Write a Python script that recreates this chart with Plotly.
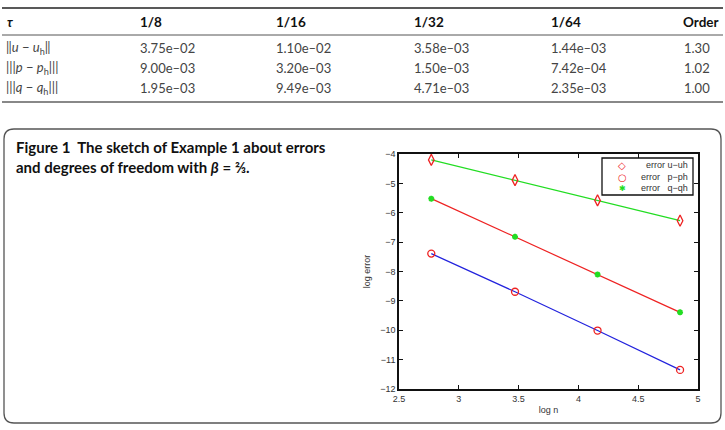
import plotly.graph_objects as go

# ---------------- data ----------------
tau_labels = ["1/8", "1/16", "1/32", "1/64"]
err_u = [3.75e-02, 1.10e-02, 3.58e-03, 1.44e-03]
err_p = [9.00e-03, 3.20e-03, 1.50e-03, 7.42e-04]
err_q = [1.95e-03, 9.49e-03, 4.71e-03, 2.35e-03]
orders = ["1.30", "1.02", "1.00"]
row_labels = [
    "‖<i>u</i> − <i>u</i><sub>h</sub>‖",
    "|||<i>p</i> − <i>p</i><sub>h</sub>|||",
    "|||<i>q</i> − <i>q</i><sub>h</sub>|||",
]

log_n = [2.77, 3.47, 4.16, 4.85]
log_err_u = [-4.20, -4.89, -5.58, -6.27]
log_err_p = [-7.39, -8.69, -10.01, -11.35]
log_err_q = [-5.52, -6.82, -8.10, -9.39]

legend_labels = ["error u−uh", "error   p−ph", "error   q−qh"]

x_ticks = [2.5, 3, 3.5, 4, 4.5, 5]
y_ticks = [-12, -11, -10, -9, -8, -7, -6, -5, -4]

# ---------------- layout geometry ----------------
W, H = 725, 430
L, R, T, B = 399, 27, 154, 41
PW, PH = W - L - R, H - T - B


def px(x):
    return (x - L) / PW


def py(y):
    return (H - B - y) / PH


def fmt(v):
    return f"{v:.2e}".replace("-", "–")


RED, GREEN, BLUE = "#ee2222", "#22dd22", "#2222dd"

fig = go.Figure()

# lines
fig.add_trace(go.Scatter(x=log_n, y=log_err_u, mode="lines",
                         line=dict(color=GREEN, width=1.2), showlegend=False))
fig.add_trace(go.Scatter(x=log_n, y=log_err_q, mode="lines",
                         line=dict(color=RED, width=1.2), showlegend=False))
fig.add_trace(go.Scatter(x=log_n, y=log_err_p, mode="lines",
                         line=dict(color=BLUE, width=1.2), showlegend=False))
# markers
fig.add_trace(go.Scatter(x=log_n, y=log_err_u, mode="markers", name=legend_labels[0], showlegend=False,
                         marker=dict(symbol="diamond-tall-open", size=8, color=RED,
                                     line=dict(width=1.3, color=RED))))
fig.add_trace(go.Scatter(x=log_n, y=log_err_p, mode="markers", name=legend_labels[1], showlegend=False,
                         marker=dict(symbol="circle-open", size=7, color=RED,
                                     line=dict(width=1.3, color=RED))))
fig.add_trace(go.Scatter(x=log_n, y=log_err_q, mode="markers", name=legend_labels[2], showlegend=False,
                         marker=dict(symbol="asterisk-open", size=5, color=GREEN,
                                     line=dict(width=1.8, color=GREEN))))

tick_font = dict(family="Liberation Sans, Arial", size=9, color="#333")
axis_common = dict(showline=True, linecolor="#111", linewidth=1.5, mirror="ticks",
                   ticks="inside", ticklen=4, tickcolor="#111", showgrid=False,
                   zeroline=False, tickfont=tick_font)

fig.update_xaxes(range=[2.5, 5], tickvals=x_ticks, ticktext=[f"{t:g}" for t in x_ticks],
                 title=dict(text="log n", font=tick_font, standoff=4), **axis_common)
fig.update_yaxes(range=[-12, -4], tickvals=y_ticks, ticktext=[f"−{abs(t)}" for t in y_ticks],
                 title=dict(text="log error", font=tick_font, standoff=8), **axis_common)

shapes = []
annotations = []

# table rules
shapes.append(dict(type="line", xref="paper", yref="paper", x0=px(2), x1=px(723), y0=py(8), y1=py(8),
                   line=dict(color="#222", width=1.5)))
shapes.append(dict(type="line", xref="paper", yref="paper", x0=px(2), x1=px(723), y0=py(35), y1=py(35),
                   line=dict(color="#555", width=1)))
shapes.append(dict(type="line", xref="paper", yref="paper", x0=px(2), x1=px(723), y0=py(102), y1=py(102),
                   line=dict(color="#888", width=2)))

font_tab = "Lato, Open Sans, sans-serif"
col_x = [138, 274, 412, 549]
header_y = 22
row_y = [48, 68, 88]

annotations.append(dict(x=px(5), y=py(header_y), xref="paper", yref="paper", xanchor="left", yanchor="middle",
                        text="<b><i>τ</i></b>", showarrow=False, font=dict(family=font_tab, size=13, color="#111")))
for cx, lab in zip(col_x, tau_labels):
    annotations.append(dict(x=px(cx), y=py(header_y), xref="paper", yref="paper", xanchor="left", yanchor="middle",
                            text=f"<b>{lab}</b>", showarrow=False, font=dict(family=font_tab, size=13.5, color="#111")))
annotations.append(dict(x=px(721), y=py(header_y), xref="paper", yref="paper", xanchor="right", yanchor="middle",
                        text="<b>Order</b>", showarrow=False, font=dict(family=font_tab, size=13.5, color="#111")))

rows = [err_u, err_p, err_q]
for ry, lab, vals, od in zip(row_y, row_labels, rows, orders):
    annotations.append(dict(x=px(4), y=py(ry), xref="paper", yref="paper", xanchor="left", yanchor="middle",
                            text=lab, showarrow=False, font=dict(family=font_tab, size=13, color="#444")))
    for cx, v in zip(col_x, vals):
        annotations.append(dict(x=px(cx), y=py(ry), xref="paper", yref="paper", xanchor="left", yanchor="middle",
                                text=fmt(v), showarrow=False, font=dict(family=font_tab, size=13, color="#444")))
    annotations.append(dict(x=px(712), y=py(ry), xref="paper", yref="paper", xanchor="right", yanchor="middle",
                            text=od, showarrow=False, font=dict(family=font_tab, size=13, color="#444")))

# figure box with rounded corners
x0, x1, y0, y1 = px(4), px(721), py(423), py(129)
rx, ry_ = 10 / PW, 10 / PH
path = (f"M {x0+rx},{y1} L {x1-rx},{y1} Q {x1},{y1} {x1},{y1-ry_} "
        f"L {x1},{y0+ry_} Q {x1},{y0} {x1-rx},{y0} L {x0+rx},{y0} "
        f"Q {x0},{y0} {x0},{y0+ry_} L {x0},{y1-ry_} Q {x0},{y1} {x0+rx},{y1} Z")
shapes.append(dict(type="path", xref="paper", yref="paper", path=path,
                   line=dict(color="#555", width=1.3), layer="below"))

# caption
annotations.append(dict(x=px(14), y=py(147), xref="paper", yref="paper", xanchor="left", yanchor="middle",
                        text="<b>Figure 1  The sketch of Example 1 about errors</b>", showarrow=False,
                        font=dict(family=font_tab, size=15, color="#111")))
annotations.append(dict(x=px(14), y=py(167), xref="paper", yref="paper", xanchor="left", yanchor="middle",
                        text="<b>and degrees of freedom with <i>β</i> = ⅔.</b>", showarrow=False,
                        font=dict(family=font_tab, size=15, color="#111")))

# manual legend (box + symbol glyphs + labels)
shapes.append(dict(type="rect", xref="paper", yref="paper", x0=px(602), x1=px(693), y0=py(195), y1=py(158),
                   line=dict(color="#111", width=1.3), fillcolor="white", layer="above"))
leg_y = [165, 177, 188]
leg_sym = [("◇", RED, 10), ("○", RED, 10), ("✱", GREEN, 8)]
for yy, (sym, col, sz), lab in zip(leg_y, leg_sym, legend_labels):
    annotations.append(dict(x=px(622), y=py(yy), xref="paper", yref="paper", xanchor="center", yanchor="middle",
                            text=sym, showarrow=False, font=dict(family="DejaVu Sans", size=sz, color=col)))
    annotations.append(dict(x=px(690), y=py(yy), xref="paper", yref="paper", xanchor="right", yanchor="middle",
                            text=lab.replace(" ", "&nbsp;"), showarrow=False, font=tick_font))

fig.update_layout(
    width=W, height=H,
    margin=dict(l=L, r=R, t=T, b=B, pad=0),
    paper_bgcolor="white", plot_bgcolor="white",
    shapes=shapes, annotations=annotations, showlegend=False,
)

fig.write_html("out.html")
